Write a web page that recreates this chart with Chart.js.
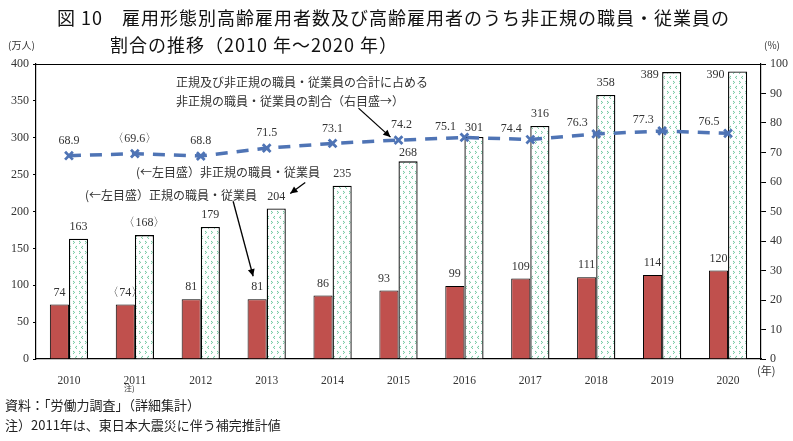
<!DOCTYPE html>
<html><head><meta charset="utf-8">
<script src="https://cdn.jsdelivr.net/npm/chart.js@4/dist/chart.umd.min.js"></script>
<style>
html,body{margin:0;padding:0;background:#fff;}
#wrap{position:relative;width:793px;height:441px;overflow:hidden;}
canvas{position:absolute;left:0;top:0;}
.t{position:absolute;white-space:nowrap;color:#222;font-family:"Noto Sans CJK JP",sans-serif;line-height:1;}
.title{font-size:18px;letter-spacing:1px;color:#111;}
.ann{font-size:12px;color:#333;}
.unit{font-size:10px;color:#333;}
.foot{font-size:13px;color:#222;}
</style></head>
<body><div id="wrap">
<canvas id="c" width="793" height="441"></canvas>
<div class="t title" style="left:57px;top:8px;">図 10　雇用形態別高齢雇用者数及び高齢雇用者のうち非正規の職員・従業員の</div>
<div class="t title" style="left:110px;top:35px;">割合の推移（2010 年～2020 年）</div>
<div class="t unit" style="left:8px;top:40px;">(万人)</div>
<div class="t unit" style="left:764px;top:40px;">(%)</div>
<div class="t ann" style="left:176px;top:76px;">正規及び非正規の職員・従業員の合計に占める</div>
<div class="t ann" style="left:176px;top:95px;">非正規の職員・従業員の割合（右目盛→）</div>
<div class="t ann" style="left:136px;top:166px;">(←左目盛）非正規の職員・従業員</div>
<div class="t ann" style="left:85px;top:189px;">(←左目盛）正規の職員・従業員</div>
<div class="t unit" style="left:757px;top:365px;font-size:11px;">(年)</div>
<div class="t unit" style="left:124px;top:384px;font-size:8px;">注)</div>
<div class="t foot" style="left:5px;top:398px;">資料：「労働力調査」（詳細集計）</div>
<div class="t foot" style="left:5px;top:418px;">注）2011年は、東日本大震災に伴う補完推計値</div>
</div>
<script>
const years = ['2010','2011','2012','2013','2014','2015','2016','2017','2018','2019','2020'];
const regular = [74,74,81,81,86,93,99,109,111,114,120];
const nonRegular = [163,168,179,204,235,268,301,316,358,389,390];
const nonRegularShare = [68.9,69.6,68.8,71.5,73.1,74.2,75.1,74.4,76.3,77.3,76.5];
const estimatedYear = '2011';
const leftTicks = [0,50,100,150,200,250,300,350,400];
const rightTicks = [0,10,20,30,40,50,60,70,80,90,100];

function makePattern(){
  const p=document.createElement('canvas'); p.width=6; p.height=10;
  const g=p.getContext('2d');
  g.fillStyle='#fff'; g.fillRect(0,0,6,10);
  g.strokeStyle='#45b883'; g.lineWidth=0.8;
  g.beginPath(); g.moveTo(1,1); g.lineTo(2.6,2.4); g.lineTo(1,3.8); g.stroke();
  g.beginPath(); g.moveTo(5,6); g.lineTo(3.4,7.4); g.lineTo(5,8.8); g.stroke();
  return document.getElementById('c').getContext('2d').createPattern(p,'repeat');
}
const fmt=(v,i,dec)=>{const s=dec?v.toFixed(1):String(v);return years[i]===estimatedYear?'〈'+s+'〉':s;};

const labelPlugin={
  id:'labels',
  afterDatasetsDraw(chart){
    const ctx=chart.ctx, ca=chart.chartArea;
    ctx.save();
    ctx.strokeStyle='#000'; ctx.lineWidth=1.2;
    ctx.beginPath(); ctx.moveTo(ca.left,ca.top+0.5); ctx.lineTo(ca.right,ca.top+0.5); ctx.stroke();
    ctx.font='12px "Liberation Serif", serif'; ctx.fillStyle='#333';
    ctx.textAlign='center'; ctx.textBaseline='middle';
    const mR=chart.getDatasetMeta(1), mN=chart.getDatasetMeta(2), mL=chart.getDatasetMeta(0);
    mR.data.forEach((b,i)=>{ctx.fillText(fmt(regular[i],i),b.x-(i===5?5:0),b.y-12);});
    mN.data.forEach((b,i)=>{
      if(nonRegular[i]>370){ctx.fillText(fmt(nonRegular[i],i),b.x-22,b.y+3);}
      else ctx.fillText(fmt(nonRegular[i],i),b.x,b.y-(i===5||i===6?9:12));
    });
    mL.data.forEach((p,i)=>{
      const t=fmt(nonRegularShare[i],i,true);
      if(i<6) ctx.fillText(t,p.x+(i===5?3:0),p.y-15);
      else ctx.fillText(t,p.x-19,p.y-11);
    });
    const arrow=(x1,y1,x2,y2)=>{
      ctx.strokeStyle='#000'; ctx.fillStyle='#000'; ctx.lineWidth=1.3;
      ctx.beginPath(); ctx.moveTo(x1,y1); ctx.lineTo(x2,y2); ctx.stroke();
      const a=Math.atan2(y2-y1,x2-x1), L=8, w=0.45;
      ctx.beginPath(); ctx.moveTo(x2,y2);
      ctx.lineTo(x2-L*Math.cos(a-w),y2-L*Math.sin(a-w));
      ctx.lineTo(x2-L*Math.cos(a+w),y2-L*Math.sin(a+w)); ctx.closePath(); ctx.fill();
    };
    const p15=mL.data[5]; arrow(p15.x-40,p15.y-32,p15.x-8,p15.y-3);
    const g13=mN.data[3]; arrow(g13.x+29,g13.y-26,g13.x+14,g13.y-15);
    const r13=mR.data[3]; arrow(r13.x-24,r13.y-98,r13.x-4,r13.y-23);
    ctx.restore();
  }
};

new Chart(document.getElementById('c'),{
  data:{
    labels:years,
    datasets:[
      {type:'line',label:'非正規の職員・従業員の割合',data:nonRegularShare,yAxisID:'y1',order:0,
       borderColor:'#4f74b5',borderWidth:3.5,borderDash:[12,9],fill:false,tension:0,
       pointStyle:'crossRot',pointRadius:5.5,pointBorderWidth:2.8,pointBorderColor:'#4f74b5',pointBackgroundColor:'#4f74b5'},
      {type:'bar',label:'正規の職員・従業員',data:regular,yAxisID:'y',order:1,
       backgroundColor:'#c0504d',borderColor:'#000',borderWidth:1,borderSkipped:'bottom'},
      {type:'bar',label:'非正規の職員・従業員',data:nonRegular,yAxisID:'y',order:1,
       backgroundColor:makePattern(),borderColor:'#000',borderWidth:1.3,borderSkipped:'bottom'}
    ]
  },
  options:{
    responsive:false,animation:false,
    layout:{padding:{top:64,left:0,right:0,bottom:0}},
    plugins:{legend:{display:false},title:{display:false},tooltip:{enabled:false}},
    datasets:{bar:{categoryPercentage:0.58,barPercentage:1}},
    scales:{
      x:{grid:{display:false},border:{display:true,color:'#000',width:1.2},
         ticks:{color:'#333',font:{family:'"Liberation Serif", serif',size:11.5},padding:7,maxRotation:0},
         afterFit:s=>{s.height=82;}},
      y:{position:'left',min:0,max:400,
         afterBuildTicks:s=>{s.ticks=leftTicks.map(v=>({value:v}));},
         grid:{drawOnChartArea:false,drawTicks:true,tickLength:3,color:'#000'},
         border:{color:'#000',width:1.2},
         ticks:{color:'#333',font:{family:'"Liberation Serif", serif',size:12},padding:4},
         afterFit:s=>{s.width=36;}},
      y1:{position:'right',min:0,max:100,
         afterBuildTicks:s=>{s.ticks=rightTicks.map(v=>({value:v}));},
         grid:{drawOnChartArea:false,drawTicks:true,tickLength:5,color:'#000'},
         border:{color:'#000',width:1.2},
         ticks:{color:'#333',font:{family:'"Liberation Serif", serif',size:12},padding:4},
         afterFit:s=>{s.width=32;}}
    }
  },
  plugins:[labelPlugin]
});
</script>
</body></html>
